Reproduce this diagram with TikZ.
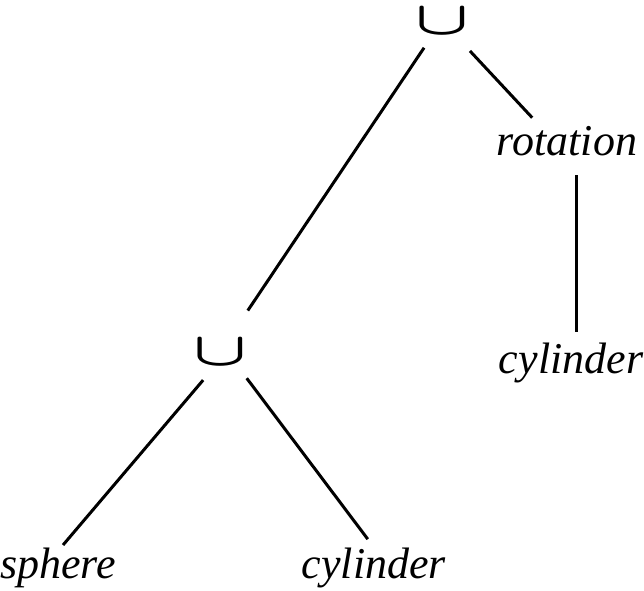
\documentclass[tikz,border=0pt]{standalone}
\usepackage{fontspec}
\setmainfont{Liberation Serif}
\usepackage{graphicx}
\begin{document}
\begin{tikzpicture}[x=1pt,y=-1pt,
  leaf/.style={inner sep=0pt,anchor=base,font=\fontsize{44}{50}\selectfont\itshape},
  opnode/.style={inner sep=0pt},
  edge/.style={line width=3pt}]
  \useasboundingbox (0,0) rectangle (644,590);

  % operators and leaves
  \node[opnode] (top) at (442,21) {\scalebox{7}[4.7]{\boldmath$\cup$}};
  \node[opnode] (mid) at (220,352) {\scalebox{7}[4.7]{\boldmath$\cup$}};
  \node[leaf] (rot) at (567,155) {rotation};
  \node[leaf] (cylR) at (571,373) {cylinder};
  \node[leaf] (sph) at (58,578) {sphere};
  \node[leaf] (cylL) at (374,578) {cylinder};

  % tree edges
  \draw[edge,shorten <=32.2pt,shorten >=49.9pt] (top.center) -- (mid.center);
  \draw[edge,shorten <=41pt,shorten >=51pt] (top.center) -- (rot.base);
  \draw[edge,shorten <=20pt,shorten >=41pt] ([xshift=9]rot.base) -- ([xshift=5]cylR.base);
  \draw[edge,shorten <=36.9pt,shorten >=43.3pt] ([xshift=7]mid.center) -- ([xshift=-23]sph.base);
  \draw[edge,shorten <=32.8pt,shorten >=48.6pt] ([xshift=7]mid.center) -- ([xshift=23]cylL.base);
\end{tikzpicture}
\end{document}
